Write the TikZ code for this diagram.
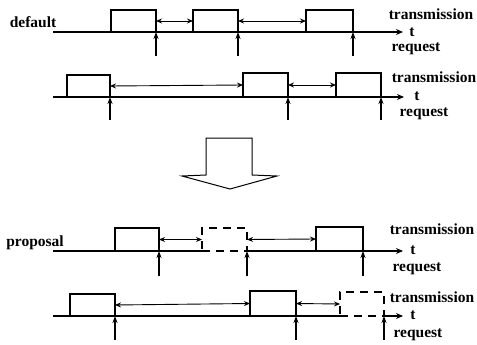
\documentclass[tikz,border=0pt]{standalone}
\usepackage{fontspec}
\setmainfont{Liberation Serif}
\usetikzlibrary{arrows.meta}
\begin{document}
\begin{tikzpicture}[x=1pt,y=-1pt,
  timeline/.style={line width=1.3pt, -{Stealth[length=7pt,width=6pt]}},
  plain/.style={line width=1.3pt},
  txbox/.style={draw, line width=1.3pt, inner sep=0pt, outer sep=0pt, anchor=south west},
  ghost/.style={txbox, dash pattern=on 8pt off 6pt, line width=1.1pt},
  gap/.style={line width=0.9pt, {Stealth[length=6pt,width=5pt]}-{Stealth[length=6pt,width=5pt]}},
  req/.style={line width=1.5pt, -{Stealth[length=7pt,width=5pt]}},
  lbl/.style={font=\bfseries\fontsize{15.5}{17}\selectfont, inner sep=0pt},
]
\useasboundingbox (0,0) rectangle (477,345);

% ---------- default, first case ----------
\node[lbl] (def) at (33,22) {default};
\coordinate (r1s) at (53,32);
\coordinate (r1e) at (403,32);
\draw[timeline] (r1s) -- (r1e);
\node[txbox, minimum width=45pt, minimum height=22pt] (b11) at (111,32) {};
\node[txbox, minimum width=45pt, minimum height=22pt] (b12) at (193,32) {};
\node[txbox, minimum width=47pt, minimum height=22pt] (b13) at (306,32) {};
\draw[gap] (b11.east) -- (b12.west);
\draw[gap] (b12.east) -- (b13.west);
\foreach \b in {b11,b12,b13} {
  \coordinate (\b q) at ([yshift=-24pt]\b.south east);
  \draw[req] (\b q) -- (\b.south east);
}
\node[lbl] (tx1) at (431,14) {transmission};
\node[lbl] (t1) at (412,32) {t};
\node[lbl] (rq1) at (416,49) {request};

% ---------- default, second case ----------
\coordinate (r2s) at (53,97);
\coordinate (r2e) at (404,97);
\draw[timeline] (r2s) -- (r2e);
\node[txbox, minimum width=43pt, minimum height=22pt] (b21) at (67,97) {};
\node[txbox, minimum width=45pt, minimum height=24pt] (b22) at (243,97) {};
\node[txbox, minimum width=45pt, minimum height=24pt] (b23) at (336,97) {};
\draw[gap] (b21.east) -- (b22.west);
\draw[gap] (b22.east) -- (b23.west);
\foreach \b in {b21,b22,b23} {
  \coordinate (\b q) at ([yshift=-23pt]\b.south east);
  \draw[req] (\b q) -- (\b.south east);
}
\node[lbl] (tx2) at (434,77) {transmission};
\node[lbl] (t2) at (417,96) {t};
\node[lbl] (rq2) at (424,114) {request};

% ---------- block arrow ----------
\draw[line width=1pt, line join=miter]
  (206,138) -- (252,138) -- (252,175) -- (277,176) -- (230,189)
  -- (182,176) -- (206,175) -- cycle;

% ---------- proposal, first case ----------
\node[lbl] (prop) at (35,243) {proposal};
\coordinate (r3s) at (53,251);
\coordinate (r3e) at (403,251);
\node[txbox, minimum width=44pt, minimum height=23pt] (b31) at (115,251) {};
\node[ghost, minimum width=45pt, minimum height=23pt] (g32) at (202,251) {};
\node[txbox, minimum width=47pt, minimum height=24pt] (b33) at (316,251) {};
\draw[plain] (r3s) -- (g32.south west);
\draw[timeline] (g32.south east) -- (r3e);
\draw[gap] (b31.east) -- (g32.west);
\draw[gap] (g32.east) -- (b33.west);
\foreach \b in {b31,g32,b33} {
  \coordinate (\b q) at ([yshift=-25pt]\b.south east);
  \draw[req] (\b q) -- (\b.south east);
}
\node[lbl] (tx3) at (432,229) {transmission};
\node[lbl] (t3) at (413,250) {t};
\node[lbl] (rq3) at (417,269) {request};

% ---------- proposal, second case ----------
\coordinate (r4s) at (53,316);
\coordinate (r4e) at (403,316);
\node[txbox, minimum width=45pt, minimum height=22pt] (b41) at (70,316) {};
\node[txbox, minimum width=46pt, minimum height=25pt] (b42) at (250,316) {};
\node[ghost, minimum width=44pt, minimum height=24pt] (g43) at (340,316) {};
\draw[plain] (r4s) -- (g43.south west);
\draw[timeline] (g43.south east) -- (r4e);
\draw[gap] (b41.east) -- (b42.west);
\draw[gap] (b42.east) -- (g43.west);
\foreach \b in {b41,b42,g43} {
  \coordinate (\b q) at ([yshift=-24pt]\b.south east);
  \draw[req] (\b q) -- (\b.south east);
}
\node[lbl] (tx4) at (432,297) {transmission};
\node[lbl] (t4) at (413,315) {t};
\node[lbl] (rq4) at (418,335) {request};
\end{tikzpicture}
\end{document}
